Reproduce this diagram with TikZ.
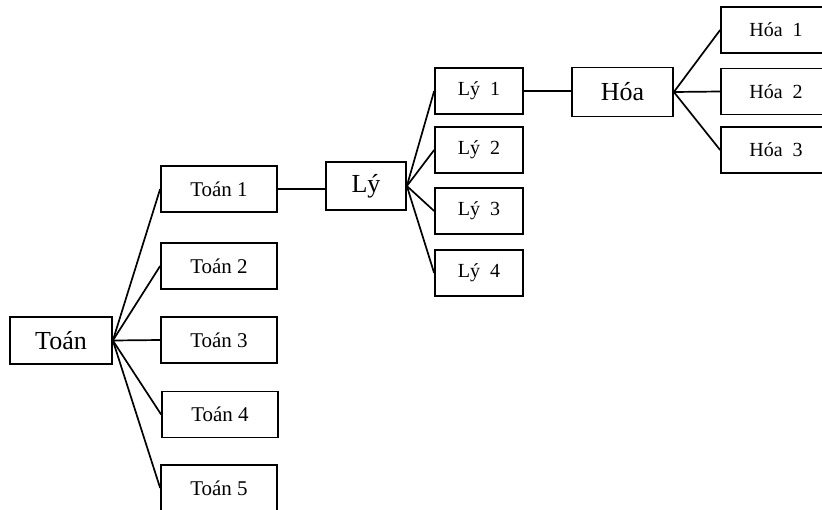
\documentclass[tikz,border=0pt]{standalone}
\usepackage{fontspec}
\setmainfont{Liberation Serif}
\begin{document}
\begin{tikzpicture}[x=1pt,y=-1pt,line width=1.7pt,
  box/.style={draw,line width=1.7pt,inner sep=0pt,anchor=center},
  bigbox/.style={box,font=\fontsize{26}{28}\selectfont},
  tbox/.style={box,minimum width=116pt,minimum height=46pt,font=\fontsize{21}{23}\selectfont},
  lbox/.style={box,minimum width=88pt,minimum height=46pt,font=\fontsize{20}{22}\selectfont},
  hbox/.style={box,minimum width=110pt,minimum height=46pt,font=\fontsize{20}{22}\selectfont},
  link/.style={draw,line width=1.7pt}]
\useasboundingbox (0,0) rectangle (822,509);
\clip (0,0) rectangle (822,509);
% level 1
\node[bigbox,minimum width=102pt,minimum height=47pt] (toan) at (61,340.5) {Toán};
% Toán branches
\node[tbox] (t1) at (219,189) {Toán 1};
\node[tbox] (t2) at (219,266) {Toán 2};
\node[tbox] (t3) at (219,340) {Toán 3};
\node[tbox] (t4) at (220,414.5) {Toán 4};
\node[tbox] (t5) at (219,488) {Toán 5};
% Lý and its branches
\node[bigbox,minimum width=80pt,minimum height=48pt] (ly) at (366,186) {Lý};
\node[lbox] (l1) at (479,91) {Lý~~1};
\node[lbox] (l2) at (479,150) {Lý~~2};
\node[lbox] (l3) at (479,211) {Lý~~3};
\node[lbox] (l4) at (479,273) {Lý~~4};
% Hóa and its branches (running off the right edge)
\node[bigbox,minimum width=101pt,minimum height=49pt] (hoa) at (622.5,92) {Hóa};
\node[hbox] (h1) at (776,30) {Hóa~~1};
\node[hbox] (h2) at (776,91.5) {Hóa~~2};
\node[hbox] (h3) at (776,150) {Hóa~~3};
% connectors
\foreach \n in {t1,t2,t3,t4,t5} \draw[link] (toan.east) -- (\n.west);
\draw[link] (t1.east) -- (ly.west |- t1.east);
\foreach \n in {l1,l2,l3,l4} \draw[link] (ly.east) -- (\n.west);
\draw[link] (l1.east) -- (hoa.west |- l1.east);
\foreach \n in {h1,h2,h3} \draw[link] (hoa.east) -- (\n.west);
\end{tikzpicture}
\end{document}
